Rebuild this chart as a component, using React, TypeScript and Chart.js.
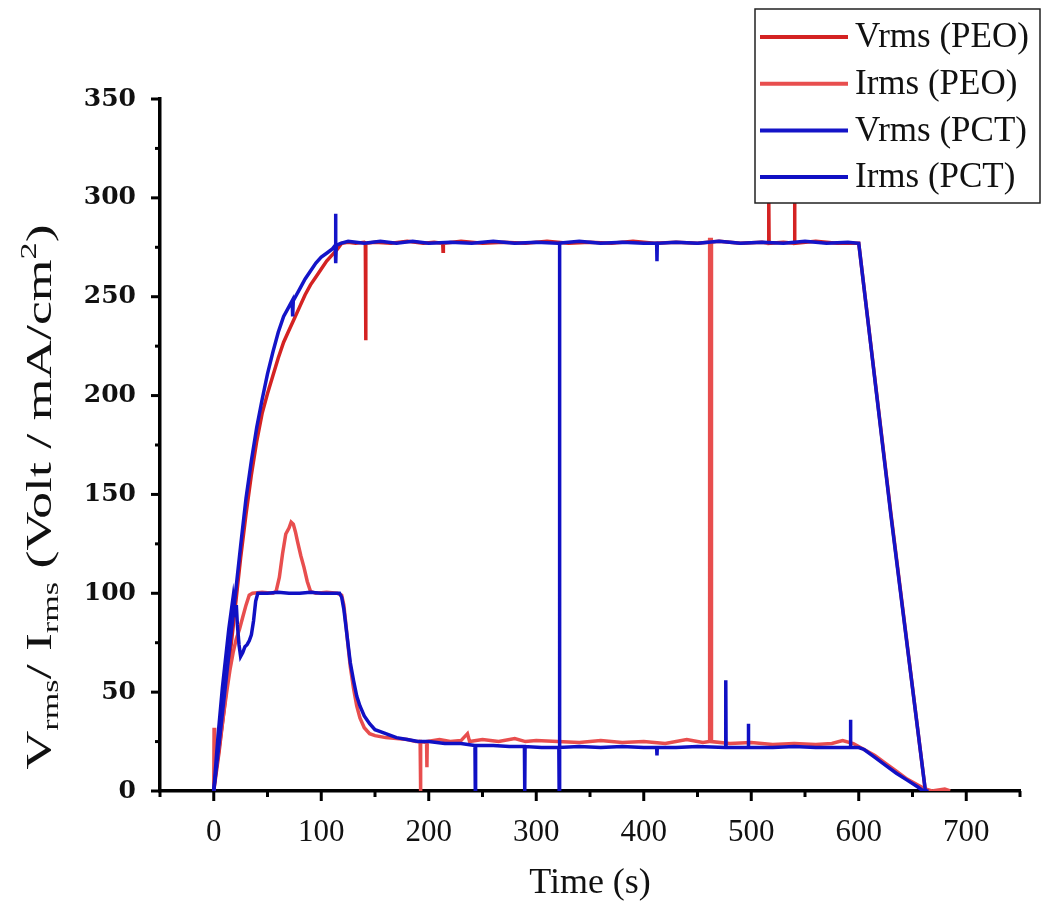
import { useEffect, useRef } from 'react';
import { Chart, registerables } from 'chart.js';

Chart.register(...registerables);

// ---------- data: [time (s), value] ----------
const seriesLabels = ['Vrms (PEO)', 'Irms (PEO)', 'Vrms (PCT)', 'Irms (PCT)'];
const seriesColors = ['#d42222', '#e84e4e', '#1414c8', '#1010c4'];

const vrmsPeo: [number, number][] = [
  [0, 0], [5, 20], [10, 43], [15, 68], [20, 93], [25, 118], [30, 140], [35, 160], [40, 177], [45, 191],
  [50, 201], [55, 210], [60, 219], [65, 227], [70, 233], [75, 239], [80, 245], [85, 251], [90, 256],
  [95, 260], [100, 264], [105, 268], [110, 271], [115, 274], [119, 277], [125, 277.5], [132, 277],
  [140, 277.5], [141, 277], [141.3, 228], [141.6, 277], [150, 277.5], [165, 277], [180, 278], [195, 277],
  [205, 277.5], [213, 277], [213.3, 273], [213.6, 277], [230, 278], [250, 277], [270, 277.5], [290, 277],
  [310, 278], [330, 277], [350, 277.5], [370, 277], [390, 278], [410, 277], [430, 277.5], [450, 277],
  [470, 278], [490, 277], [510, 277.5], [516, 277], [516.3, 300], [516.6, 277], [530, 277.5], [540, 277],
  [540.3, 300], [540.6, 277], [560, 278], [580, 277], [600, 277], [630, 140], [662, 0], [668, 0],
];

const irmsPeo: [number, number][] = [
  [0, 0], [0.3, 32], [0.8, 8], [3, 14], [6, 26], [9, 38], [12, 50], [15, 61], [18, 70], [21, 77],
  [24, 82], [27, 88], [30, 94], [33, 99], [36, 100], [45, 100.5], [55, 100], [58, 101], [61, 108],
  [64, 120], [67, 130], [70, 133], [72, 136], [74, 135], [76, 131], [78, 126], [81, 119], [84, 113],
  [87, 106], [90, 101], [95, 100], [105, 100.5], [115, 100], [119, 99], [121, 94], [123, 84], [125, 73],
  [127, 63], [130, 52], [133, 43], [136, 37], [140, 32], [145, 29], [150, 28], [160, 27], [170, 26.5],
  [180, 26], [188, 25], [192, 25], [192.3, 0], [192.6, 25], [198, 24.5], [198.3, 12], [198.6, 25],
  [210, 26], [220, 25], [230, 25.5], [236, 29], [238, 25], [250, 26], [265, 25], [280, 26.5], [290, 25],
  [300, 25.5], [320, 25], [340, 24.5], [360, 25.5], [380, 24.5], [400, 25], [420, 24], [440, 26],
  [455, 24.5], [461, 25], [461.3, 279], [462.8, 279], [463, 25], [480, 24], [500, 24.5], [520, 23.5],
  [540, 24], [560, 23.5], [575, 24], [585, 25.5], [595, 24], [605, 21], [615, 18], [625, 14], [635, 10],
  [645, 6], [655, 3], [662, 1], [668, 0], [680, 1], [685, 0],
];

const vrmsPct: [number, number][] = [
  [0, 0], [5, 24], [10, 49], [15, 74], [20, 99], [25, 124], [30, 148], [35, 167], [40, 184], [45, 198],
  [50, 211], [55, 222], [60, 232], [65, 240], [70, 245], [73, 248], [73.4, 240], [74, 248], [80, 254],
  [85, 259], [90, 263], [95, 267], [100, 270], [105, 272], [110, 274], [113, 276], [113.3, 292],
  [113.6, 267], [114, 276], [118, 277], [125, 278], [140, 277], [155, 278], [170, 277], [185, 278],
  [200, 277], [220, 277.5], [240, 277], [260, 278], [280, 277], [300, 277.5], [320, 277], [340, 278],
  [360, 277], [380, 277.5], [400, 277], [412, 277], [412.3, 268], [412.6, 277], [430, 277.5], [450, 277],
  [470, 278], [490, 277], [510, 277.5], [530, 277], [550, 278], [570, 277], [590, 277.5], [600, 277],
  [630, 139], [662, 0],
];

const irmsPct: [number, number][] = [
  [0, 0], [2, 14], [4, 28], [6, 40], [8, 52], [10, 62], [12, 72], [14, 82], [16, 90], [18, 98], [19, 93],
  [20, 88], [21, 94], [22, 84], [23.5, 74], [25, 68], [27, 70], [29, 73], [31, 74], [33, 76], [35, 79],
  [37, 86], [39, 96], [41, 100], [50, 100], [60, 100.5], [70, 100], [80, 100], [90, 100.5], [100, 100],
  [110, 100], [117, 100], [119, 98], [121, 92], [123, 83], [125, 74], [127, 65], [130, 56], [133, 48],
  [136, 43], [140, 38], [145, 34], [150, 31], [155, 30], [160, 29], [170, 27], [180, 26], [190, 25],
  [200, 25], [215, 24], [230, 24], [243, 23], [243.3, 0], [243.6, 23], [260, 23], [275, 22.5],
  [289, 22.5], [289.3, 0], [289.6, 22.5], [305, 22], [321, 22], [321.3, 0], [321.6, 277], [321.9, 22],
  [340, 22.5], [360, 22], [380, 22.5], [400, 22], [412, 22], [412.3, 18], [412.6, 22], [430, 22],
  [450, 22.5], [476, 22], [476.3, 56], [476.6, 22], [497, 22], [497.3, 34], [497.6, 22], [520, 22],
  [540, 22.5], [560, 22], [580, 22], [592, 22], [592.3, 36], [592.6, 22], [600, 22], [605, 21],
  [615, 17], [625, 13], [635, 9], [645, 5.5], [655, 2], [660, 0], [665, 0],
];

const seriesData = [vrmsPeo, irmsPeo, vrmsPct, irmsPct];
const seriesOrder = [3, 2, 1, 0];

const xRange = [-50, 750];
const yRange = [0, 350];
const xStep = 50;
const yStep = 25;
const xTitle = 'Time (s)';
// y title parts: [text, kind] kind: n = normal, sub = subscript, sup = superscript
const yTitleParts: [string, string][] = [
  ['V', 'n'], ['rms', 'sub'], ['/ I', 'n'], ['rms', 'sub'], [' (Volt / mA/cm', 'n'], ['2', 'sup'], [')', 'n'],
];

export default function App() {
  const ref = useRef<HTMLCanvasElement>(null);

  useEffect(() => {
    document.body.style.margin = '0';
    const canvas = ref.current;
    if (!canvas) return;

    const decor = {
      id: 'decor',
      afterDraw(chart: any) {
        const { ctx, chartArea: ca, scales } = chart;
        const xs = scales.x;
        const ys = scales.y;
        ctx.save();
        // tick marks (outward)
        ctx.strokeStyle = '#000';
        ctx.lineWidth = 3;
        xs.ticks.forEach((t: any) => {
          const px = xs.getPixelForValue(t.value);
          const len = t.value % 100 === 0 ? 10 : 6;
          ctx.beginPath();
          ctx.moveTo(px, ca.bottom);
          ctx.lineTo(px, ca.bottom + len);
          ctx.stroke();
        });
        ys.ticks.forEach((t: any) => {
          const py = ys.getPixelForValue(t.value);
          const len = t.value % 50 === 0 ? 9 : 5;
          ctx.beginPath();
          ctx.moveTo(ca.left, py);
          ctx.lineTo(ca.left - len, py);
          ctx.stroke();
        });

        // x title
        ctx.fillStyle = '#111';
        ctx.font = '36px "Liberation Serif"';
        ctx.textAlign = 'center';
        ctx.textBaseline = 'alphabetic';
        ctx.fillText(xTitle, (ca.left + ca.right) / 2, 893);

        // y title (rotated, with sub/superscripts)
        const big = 36;
        const small = 23;
        const fontFor = (k: string) => `${k === 'n' ? big : small}px "Liberation Serif"`;
        let total = 0;
        const widths = yTitleParts.map(([txt, k]) => {
          ctx.font = fontFor(k);
          const w = ctx.measureText(txt).width;
          total += w;
          return w;
        });
        const targetLen = 545;
        const stretch = targetLen / total;
        ctx.save();
        ctx.translate(51, 497);
        ctx.rotate(-Math.PI / 2);
        ctx.scale(stretch, 1);
        ctx.textAlign = 'left';
        let cx = -total / 2;
        yTitleParts.forEach(([txt, k], i) => {
          ctx.font = fontFor(k);
          const dy = k === 'sub' ? 7 : k === 'sup' ? -15 : 0;
          ctx.fillText(txt, cx, dy);
          cx += widths[i];
        });
        ctx.restore();

        // legend box
        const lx = 755, ly = 9, lw = 285, lh = 194;
        ctx.fillStyle = '#fff';
        ctx.fillRect(lx, ly, lw, lh);
        ctx.strokeStyle = '#222';
        ctx.lineWidth = 1.5;
        ctx.strokeRect(lx, ly, lw, lh);
        ctx.font = '35px "Liberation Serif"';
        ctx.textAlign = 'left';
        ctx.textBaseline = 'middle';
        chart.data.datasets.forEach((ds: any, i: number) => {
          const yy = 37 + i * 46.7;
          ctx.strokeStyle = ds.borderColor;
          ctx.lineWidth = 4;
          ctx.beginPath();
          ctx.moveTo(760, yy);
          ctx.lineTo(848, yy);
          ctx.stroke();
          ctx.fillStyle = '#111';
          ctx.fillText(ds.label, 855, yy + 1);
        });
        ctx.restore();
      },
    };

    const chart = new Chart(canvas, {
      type: 'line',
      data: {
        datasets: seriesData.map((arr, i) => ({
          label: seriesLabels[i],
          data: arr.map(([x, y]) => ({ x, y })),
          borderColor: seriesColors[i],
          backgroundColor: seriesColors[i],
          borderWidth: 3.5,
          pointRadius: 0,
          tension: 0,
          fill: false,
          order: seriesOrder[i],
        })),
      },
      options: {
        responsive: false,
        animation: false,
        devicePixelRatio: 1,
        layout: { padding: { left: 0, top: 99, right: 24, bottom: 0 } },
        plugins: { legend: { display: false }, tooltip: { enabled: false } },
        scales: {
          x: {
            type: 'linear',
            min: xRange[0],
            max: xRange[1],
            grid: { display: false },
            border: { display: true, color: '#000', width: 3.5 },
            ticks: {
              stepSize: xStep,
              autoSkip: false,
              maxRotation: 0,
              padding: 15,
              color: '#111',
              font: { family: '"Liberation Serif"', size: 31 },
              callback: (v: any) => (Number(v) % 100 === 0 ? String(v) : ''),
            },
            afterFit: (s: any) => {
              s.height = 118;
            },
          },
          y: {
            min: yRange[0],
            max: yRange[1],
            grid: { display: false },
            border: { display: true, color: '#000', width: 3.5 },
            ticks: {
              stepSize: yStep,
              autoSkip: false,
              padding: 16,
              color: '#111',
              font: { family: '"DejaVu Serif"', size: 25, weight: 'bold' },
              callback: (v: any) => (Number(v) % 50 === 0 ? String(v) : ''),
            },
            afterFit: (s: any) => {
              s.width = 160;
            },
          },
        },
      },
      plugins: [decor],
    });

    return () => chart.destroy();
  }, []);

  return <canvas ref={ref} width={1044} height={909} style={{ display: 'block' }} />;
}
